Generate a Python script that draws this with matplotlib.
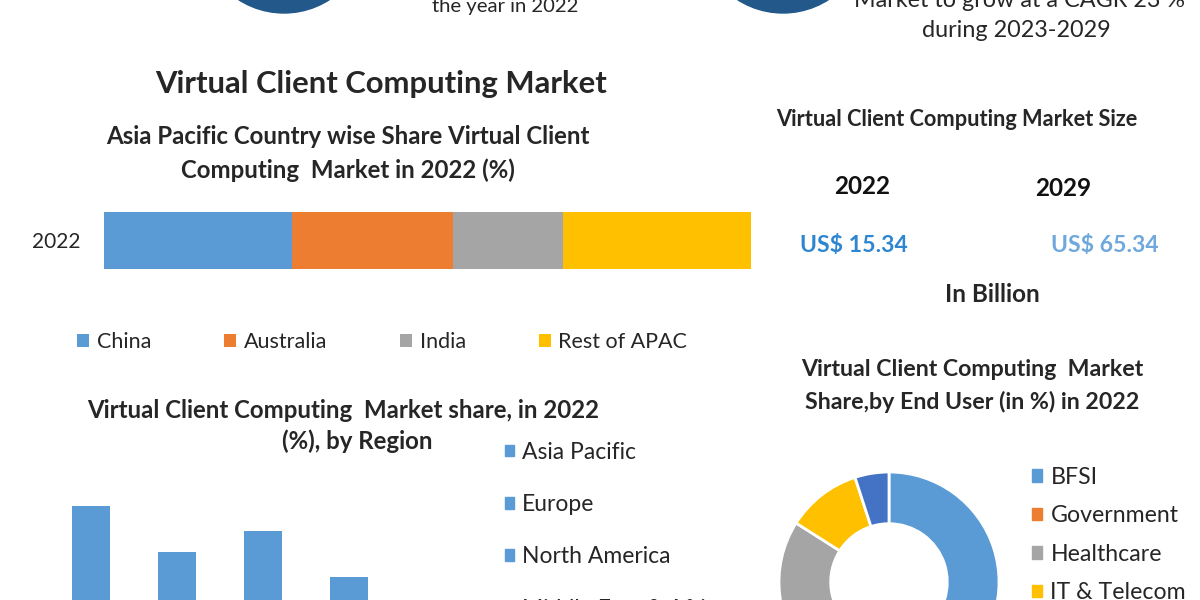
import matplotlib
matplotlib.use("Agg")
import matplotlib.pyplot as plt
from matplotlib.patches import Circle, Patch

plt.rcParams['font.family'] = ['Lato', 'DejaVu Sans']

# --- data ---
apac_countries = ['China', 'Australia', 'India', 'Rest of APAC']
apac_share = [29, 25, 17, 29]
apac_colors = ['#5b9bd5', '#ed7d31', '#a5a5a5', '#ffc000']

regions = ['Asia Pacific', 'Europe', 'North America', 'Middle East & Africa', 'South America']
region_share = [32, 21, 26, 15, 6]

end_users = ['BFSI', 'Government', 'Healthcare', 'IT & Telecom', 'Others']
end_user_share = [40, 22, 22, 11, 5]
end_user_colors = ['#5b9bd5', '#ed7d31', '#a5a5a5', '#ffc000', '#4472c4']

size_years = ['2022', '2029']
size_values = ['US$ 15.34', 'US$ 65.34']

TXT = '#262626'
W, H = 1200, 600

fig = plt.figure(figsize=(12, 6), dpi=100)
fig.patch.set_facecolor('white')

# canvas axes in pixel coordinates for the loose infographic pieces
cv = fig.add_axes([0, 0, 1, 1])
cv.set_xlim(0, W)
cv.set_ylim(H, 0)
cv.set_aspect('equal')
cv.axis('off')

def ax_px(x0, y0, x1, y1):
    # axes box given by pixel corners (top-left origin)
    return fig.add_axes([x0 / W, 1 - y1 / H, (x1 - x0) / W, (y1 - y0) / H])

# top header bits (cut off in the picture)
cv.add_patch(Circle((284, -71), 84, color='#22598a'))
cv.add_patch(Circle((783, -71), 84, color='#22598a'))
cv.text(505, 12, 'the year in 2022', ha='center', va='baseline', fontsize=14.6, color=TXT)
cv.text(1020, 7, 'Market to grow at a CAGR 23 %', ha='center', va='baseline', fontsize=16.8, color=TXT)
cv.text(1016, 37, 'during 2023-2029', ha='center', va='baseline', fontsize=16.8, color=TXT)

# titles
cv.text(381, 84, 'Virtual Client Computing Market', ha='center', va='center',
        fontsize=22.3, fontweight='bold', color=TXT)
cv.text(348, 137, 'Asia Pacific Country wise Share Virtual Client', ha='center', va='center',
        fontsize=17.3, fontweight='bold', color=TXT)
cv.text(348, 170, 'Computing  Market in 2022 (%)', ha='center', va='center',
        fontsize=17.3, fontweight='bold', color=TXT)

# APAC stacked bar
ax1 = ax_px(104, 212, 751, 269)
left = 0
for name, val, col in zip(apac_countries, apac_share, apac_colors):
    ax1.barh(0, val, left=left, height=1, color=col, label=name)
    left += val
ax1.set_xlim(0, sum(apac_share))
ax1.set_ylim(-0.5, 0.5)
ax1.set_yticks([0])
ax1.set_yticklabels(['2022'], fontsize=15, color=TXT)
ax1.tick_params(axis='y', length=0, pad=17)
ax1.set_xticks([])
for s in ax1.spines.values():
    s.set_visible(False)
ax1.legend(loc='center left', bbox_to_anchor=(-0.071, -1.28), ncol=4, frameon=False,
           fontsize=15.5, handlelength=0.55, handleheight=0.55, handletextpad=0.35,
           columnspacing=3.4, labelcolor=TXT)

# market size block
cv.text(957, 120, 'Virtual Client Computing Market Size', ha='center', va='center',
        fontsize=15.7, fontweight='bold', color=TXT)
for xc, yc, yr in zip([862, 1063], [186, 188], size_years):
    cv.text(xc, yc, yr, ha='center', va='center', fontsize=17.5, fontweight='bold', color='#111111')
for xc, val, col in zip([854, 1105], size_values, ['#2e86d0', '#6fa8dc']):
    cv.text(xc, 245, val, ha='center', va='center', fontsize=16.6, fontweight='bold', color=col)
cv.text(992, 295, 'In Billion', ha='center', va='center', fontsize=17.5, fontweight='bold', color=TXT)

# region bar chart
cv.text(343, 411, 'Virtual Client Computing  Market share, in 2022', ha='center', va='center',
        fontsize=17.3, fontweight='bold', color=TXT)
cv.text(357, 441, '(%), by Region', ha='center', va='center',
        fontsize=17.3, fontweight='bold', color=TXT)
ax2 = ax_px(48, 400, 478, 640)
ax2.bar(range(len(regions)), region_share, width=0.44, color='#5b9bd5')
ax2.set_xlim(-0.5, len(regions) - 0.5)
ax2.set_ylim(0, 240 / 4.2)
ax2.axis('off')
reg_handles = [Patch(color='#5b9bd5', label=r) for r in regions]
cv.legend(handles=reg_handles, loc='upper left', bbox_to_anchor=(484 / W, 1 - 421 / H),
          frameon=False, fontsize=16.5, handlelength=0.4, handleheight=0.4,
          handletextpad=0.35, labelspacing=1.37, labelcolor=TXT)

# end user donut
cv.text(972, 370, 'Virtual Client Computing  Market', ha='center', va='center',
        fontsize=16.7, fontweight='bold', color=TXT)
cv.text(972, 402, 'Share,by End User (in %) in 2022', ha='center', va='center',
        fontsize=16.7, fontweight='bold', color=TXT)
ax3 = ax_px(779, 472, 999, 692)
ax3.pie(end_user_share, colors=end_user_colors, startangle=90, counterclock=False,
        wedgeprops=dict(width=0.47, edgecolor='white', linewidth=2))
ax3.set_xlim(-1, 1)
ax3.set_ylim(-1, 1)
eu_handles = [Patch(color=c, label=n) for n, c in zip(end_users, end_user_colors)]
fig.legend(handles=eu_handles, loc='upper left', bbox_to_anchor=(1011 / W, 1 - 446 / H),
           frameon=False, fontsize=16.7, handlelength=0.45, handleheight=0.45,
           handletextpad=0.35, labelspacing=0.75, labelcolor=TXT)

fig.savefig('out.png', dpi=100)
